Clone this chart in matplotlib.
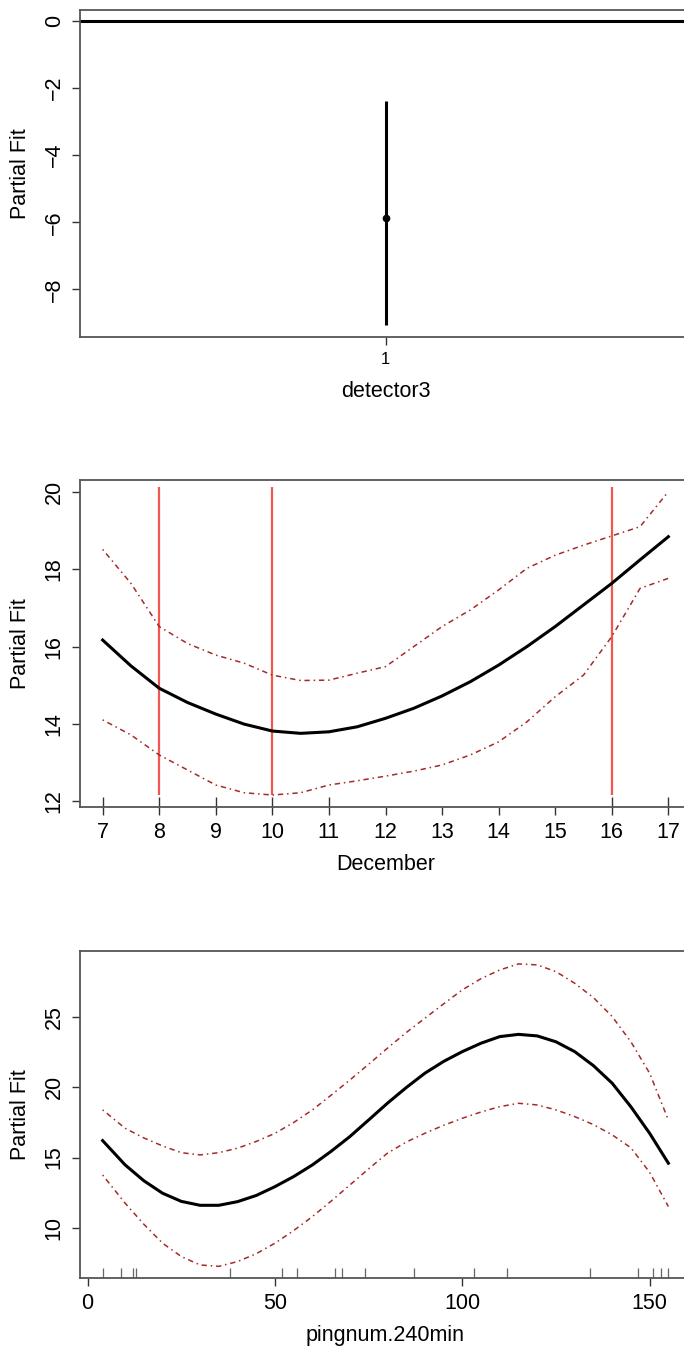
import numpy as np
import matplotlib.pyplot as plt

plt.rcParams['font.family'] = ['Liberation Sans', 'DejaVu Sans']

# panel 1: factor term detector3
det_levels = ['1']
det_fit = [-5.87]
det_lo = [-9.07]
det_hi = [-2.37]

# panel 2: December smooth
dec_x = [7, 7.5, 8, 8.5, 9, 9.5, 10, 10.5, 11, 11.5, 12, 12.5, 13, 13.5, 14,
         14.5, 15, 15.5, 16, 16.5, 17]
dec_fit = [16.17, 15.50, 14.92, 14.55, 14.25, 13.99, 13.81, 13.75, 13.79, 13.92,
           14.14, 14.40, 14.72, 15.09, 15.52, 16.00, 16.52, 17.08, 17.64, 18.25, 18.85]
dec_hi = [18.52, 17.64, 16.52, 16.08, 15.78, 15.57, 15.26, 15.12, 15.13, 15.31,
          15.48, 16.00, 16.52, 16.95, 17.47, 18.03, 18.37, 18.63, 18.87, 19.11, 20.02]
dec_lo = [14.10, 13.71, 13.19, 12.80, 12.41, 12.21, 12.15, 12.21, 12.41, 12.52,
          12.64, 12.77, 12.93, 13.19, 13.53, 14.05, 14.70, 15.26, 16.26, 17.51, 17.77]
dec_rug = [7, 8, 9, 10, 11, 16, 17]
dec_marks = [8, 10, 16]

# panel 3: pingnum.240min smooth
png_x = [4, 10, 15, 20, 25, 30, 35, 40, 45, 50, 55, 60, 65, 70, 75, 80, 85, 90,
         95, 100, 105, 110, 115, 120, 125, 130, 135, 140, 145, 150, 155]
png_fit = [16.21, 14.48, 13.35, 12.46, 11.88, 11.60, 11.60, 11.86, 12.30, 12.93,
           13.65, 14.48, 15.45, 16.50, 17.68, 18.87, 19.98, 21.01, 21.85, 22.55,
           23.15, 23.62, 23.78, 23.67, 23.25, 22.55, 21.55, 20.30, 18.62, 16.73, 14.60]
png_hi = [18.40, 17.09, 16.40, 15.83, 15.35, 15.19, 15.35, 15.67, 16.15, 16.73,
          17.50, 18.40, 19.45, 20.53, 21.65, 22.79, 23.90, 24.93, 25.95, 26.95,
          27.75, 28.37, 28.80, 28.73, 28.25, 27.42, 26.40, 25.05, 23.25, 21.01, 17.68]
png_lo = [13.76, 11.75, 10.25, 8.90, 7.95, 7.35, 7.25, 7.59, 8.15, 8.90,
          9.80, 10.80, 11.90, 13.05, 14.20, 15.31, 16.10, 16.73, 17.30, 17.80,
          18.25, 18.63, 18.87, 18.75, 18.40, 17.92, 17.35, 16.62, 15.70, 13.95, 11.51]
png_rug = [4, 9, 12, 13, 38, 52, 56, 66, 68, 74, 87, 103, 112, 134, 147, 151, 153, 155]

ci_col = '#a52a2a'
ci_ls = (0, (1, 2.5, 3.5, 2.5))
spine_col = '#555555'
fs = 15.5

fig = plt.figure(figsize=(6.84, 13.46), dpi=100)
W, H = 684, 1346
left, right = 80 / W, 691 / W


def make_ax(top_px, bot_px):
    ax = fig.add_axes([left, 1 - bot_px / H, right - left, (bot_px - top_px) / H])
    for s in ax.spines.values():
        s.set_color(spine_col)
        s.set_linewidth(1.3)
    ax.tick_params(length=6, width=1.0, color='#333333', labelsize=fs, pad=5)
    ax.set_ylabel('Partial Fit', fontsize=fs, labelpad=9)
    return ax


def rot_y(ax):
    plt.setp(ax.get_yticklabels(), rotation=90, va='center')


# panel 1
ax1 = make_ax(10, 337)
ax1.set_xlim(0, 2)
ax1.set_ylim(-9.42, 0.33)
ax1.axhline(0, color='black', lw=2.2)
xpos = np.arange(1, len(det_levels) + 1)
ax1.vlines(xpos, det_lo, det_hi, color='black', lw=2.2)
ax1.plot(xpos, det_fit, 'o', color='black', ms=4.5)
ax1.set_xticks(xpos)
ax1.set_xticklabels(det_levels, fontsize=12)
ax1.set_yticks([0, -2, -4, -6, -8])
ax1.set_yticklabels(['0', '\u22122', '\u22124', '\u22126', '\u22128'])
ax1.set_xlabel('detector3', fontsize=fs, labelpad=10)
rot_y(ax1)

# panel 2
ax2 = make_ax(480, 807)
ax2.set_xlim(6.6, 17.4)
ax2.set_ylim(11.84, 20.32)
ax2.vlines(dec_marks, 12.15, 20.13, color='#f2574f', lw=1.6)
ax2.plot(dec_x, dec_hi, color=ci_col, lw=1.1, ls=ci_ls)
ax2.plot(dec_x, dec_lo, color=ci_col, lw=1.1, ls=ci_ls)
ax2.plot(dec_x, dec_fit, color='black', lw=2.2)
ax2.vlines(dec_rug, 0, 0.03, transform=ax2.get_xaxis_transform(), color='#333333', lw=1.0)
ax2.set_xticks(range(7, 18))
ax2.set_yticks([12, 14, 16, 18, 20])
ax2.set_xlabel('December', fontsize=fs, labelpad=8)
rot_y(ax2)

# panel 3
ax3 = make_ax(951, 1278)
ax3.set_xlim(-2.04, 161.04)
ax3.set_ylim(6.42, 29.72)
ax3.plot(png_x, png_hi, color=ci_col, lw=1.1, ls=ci_ls)
ax3.plot(png_x, png_lo, color=ci_col, lw=1.1, ls=ci_ls)
ax3.plot(png_x, png_fit, color='black', lw=2.2)
ax3.vlines(png_rug, 0, 0.03, transform=ax3.get_xaxis_transform(), color='#666666', lw=0.9)
ax3.set_xticks([0, 50, 100, 150])
ax3.set_yticks([10, 15, 20, 25])
ax3.set_xlabel('pingnum.240min', fontsize=fs, labelpad=8)
rot_y(ax3)

fig.savefig('out.png', dpi=100)
